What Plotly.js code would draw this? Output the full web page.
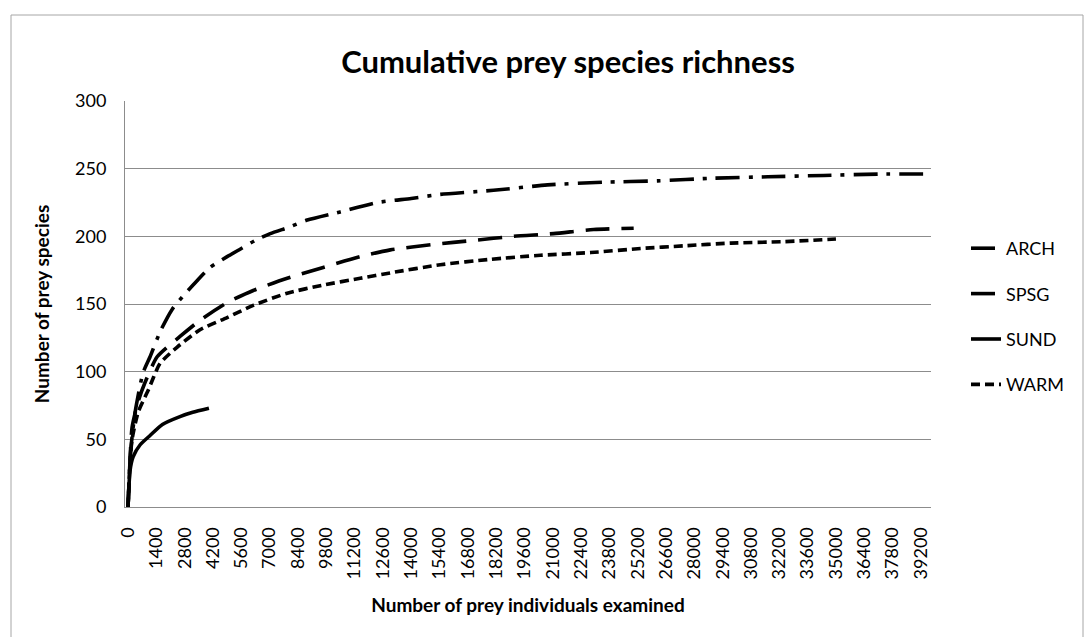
<!DOCTYPE html>
<html>
<head>
<meta charset="utf-8">
<script src="https://cdn.plot.ly/plotly-3.0.1.min.js"></script>
<style>html,body{margin:0;padding:0;background:#fff;}#chart{width:1085px;height:637px;}</style>
</head>
<body>
<div id="chart"></div>
<script>
// Data
var seriesNames = ["ARCH", "SPSG", "SUND", "WARM"];

var archX = [0, 100, 200, 350, 740, 1090, 1600, 2180, 2670, 3400, 4060, 4900, 5600, 6290, 7030, 8000, 8860, 10490, 12330, 14000, 15440, 18070, 20740, 23510, 26190, 28960, 31630, 34400, 37080, 39700];
var archY = [0, 35, 52, 70, 99, 111, 130, 146, 155, 167, 177, 185, 191, 197, 202, 207, 212, 218, 225, 228, 231, 234, 238, 240, 241, 243, 244, 245, 246, 246];

var spsgX = [0, 100, 200, 500, 840, 1440, 2570, 3560, 4900, 6190, 7870, 9650, 11480, 12970, 15100, 17080, 19060, 21040, 23020, 25000];
var spsgY = [0, 35, 59, 78, 92, 111, 126, 138, 151, 160, 169, 177, 185, 190, 194, 197, 200, 202, 205, 206];

var sundX = [0, 100, 250, 600, 1100, 1700, 2600, 3200, 4000];
var sundY = [0, 27, 37, 46, 53, 61, 67, 70, 73];

var warmX = [0, 100, 200, 500, 990, 1580, 2420, 3560, 4900, 6190, 7870, 9650, 11480, 12970, 15440, 17920, 20390, 22870, 25340, 27500, 29800, 32300, 35000];
var warmY = [0, 33, 50, 70, 86, 106, 118, 131, 140, 149, 158, 164, 169, 173, 179, 183, 186, 188, 191, 193, 195, 196, 198];

var xTickVals = [];
for (var v = 0; v <= 39200; v += 1400) xTickVals.push(v);
var xTickText = xTickVals.map(String);
var yTickVals = [0, 50, 100, 150, 200, 250, 300];

var FONT = "Lato, 'Open Sans', sans-serif";
var dashes = ["24px,9px,4px,9px", "24px,12px", "solid", "9px,5px"];
var xs = [archX, spsgX, sundX, warmX];
var ys = [archY, spsgY, sundY, warmY];

var traces = seriesNames.map(function (n, i) {
  return {
    x: xs[i], y: ys[i], name: n, type: "scatter", mode: "lines",
    legendgroup: n,
    line: {color: "#000", width: 3.6, dash: dashes[i], shape: "spline", smoothing: 0.6}
  };
});

var L = 125, R = 931, T = 101, B = 507;
var pw = R - L, ph = B - T;

var layout = {
  width: 1085, height: 637,
  margin: {l: L, r: 1085 - R, t: T, b: 637 - B},
  paper_bgcolor: "#fff", plot_bgcolor: "#fff",
  font: {family: FONT, color: "#000", size: 17},
  title: {
    text: "<b>Cumulative prey species richness</b>",
    font: {family: FONT, size: 31, color: "#000"},
    x: 568 / 1085, xanchor: "center", xref: "container",
    y: 1 - 62 / 637, yanchor: "middle", yref: "container"
  },
  xaxis: {
    range: [-150, 39700], tickvals: xTickVals, ticktext: xTickText,
    tickangle: -90, showgrid: false, zeroline: false,
    showline: true, linecolor: "#8c8c8c", linewidth: 1,
    ticks: "", ticklabelstandoff: 12,
    tickfont: {family: FONT, size: 18, color: "#000"},
    title: {text: "<b>Number of prey individuals examined</b>", font: {family: FONT, size: 19, color: "#000"}, standoff: 20}
  },
  yaxis: {
    range: [0, 300], tickvals: yTickVals,
    showgrid: true, gridcolor: "#8c8c8c", gridwidth: 1,
    zeroline: false, showline: true, linecolor: "#8c8c8c", linewidth: 1,
    ticks: "", ticklabelstandoff: 14,
    tickfont: {family: FONT, size: 18, color: "#000"},
    title: {text: "<b>Number of prey species</b>", font: {family: FONT, size: 19, color: "#000"}, standoff: 20}
  },
  showlegend: true,
  legend: {
    x: (966 - L) / pw, xanchor: "left",
    y: (B - 230) / ph, yanchor: "top",
    traceorder: "grouped", tracegroupgap: 19,
    font: {family: FONT, size: 18, color: "#000"},
    bgcolor: "rgba(0,0,0,0)", borderwidth: 0
  },
  shapes: [{
    type: "rect", xref: "paper", yref: "paper",
    x0: (11 - L) / pw, x1: (1083 - L) / pw,
    y0: (B - 640) / ph, y1: (B - 15) / ph,
    line: {color: "#a6a6a6", width: 1}, fillcolor: "rgba(0,0,0,0)", layer: "below"
  }]
};

Plotly.newPlot("chart", traces, layout, {displayModeBar: false, staticPlot: true});
</script>
</body>
</html>
